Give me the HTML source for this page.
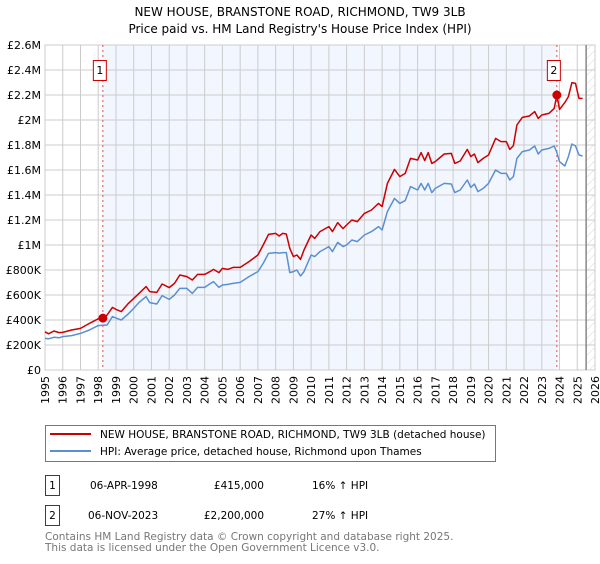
<!DOCTYPE html>
<html><head><meta charset="utf-8"><style>
body{margin:0;background:#fff;font-family:"DejaVu Sans","Liberation Sans",sans-serif;}
svg text{font-family:"DejaVu Sans","Liberation Sans",sans-serif;}
</style></head><body>
<svg id="chart" width="600" height="560" xmlns="http://www.w3.org/2000/svg">
<defs><pattern id="hatch" width="6" height="6" patternUnits="userSpaceOnUse" patternTransform="rotate(45)"><line x1="0" y1="0" x2="0" y2="6" stroke="#ccc" stroke-width="0.8"/></pattern></defs>
<text x="300" y="16" text-anchor="middle" font-size="12" fill="#000">NEW HOUSE, BRANSTONE ROAD, RICHMOND, TW9 3LB</text>
<text x="300" y="33" text-anchor="middle" font-size="12" fill="#000">Price paid vs. HM Land Registry's House Price Index (HPI)</text>
<g id="plot"></g>
<g>
<rect x="45.5" y="425.5" width="450" height="36" fill="#fff" stroke="#777"/>
<line x1="50" y1="434" x2="91" y2="434" stroke="#cc0000" stroke-width="2"/>
<text x="100" y="438" font-size="10.5">NEW HOUSE, BRANSTONE ROAD, RICHMOND, TW9 3LB (detached house)</text>
<line x1="50" y1="451" x2="91" y2="451" stroke="#5b8fd4" stroke-width="2"/>
<text x="100" y="455" font-size="10.5">HPI: Average price, detached house, Richmond upon Thames</text>
</g>
<g>
<rect x="45.5" y="475.5" width="14" height="20" fill="#fff" stroke="#cc0000"/>
<text x="52.5" y="489" font-size="10.5" text-anchor="middle">1</text>
<text x="90" y="489" font-size="10.5">06-APR-1998</text>
<text x="264" y="489" font-size="10.5" text-anchor="end">£415,000</text>
<text x="312" y="489" font-size="10.5">16% ↑ HPI</text>
<rect x="45.5" y="505.5" width="14" height="20" fill="#fff" stroke="#cc0000"/>
<text x="52.5" y="519" font-size="10.5" text-anchor="middle">2</text>
<text x="88" y="519" font-size="10.5">06-NOV-2023</text>
<text x="264" y="519" font-size="10.5" text-anchor="end">£2,200,000</text>
<text x="312" y="519" font-size="10.5">27% ↑ HPI</text>
</g>
<text x="45" y="540" font-size="10.5" fill="#777">Contains HM Land Registry data © Crown copyright and database right 2025.</text>
<text x="45" y="551" font-size="10.5" fill="#777">This data is licensed under the Open Government Licence v3.0.</text>
</svg>
<script>
const years=[1995.0,1995.2,1995.5,1995.8,1996.0,1996.5,1997.0,1997.5,1998.0,1998.25,1998.5,1998.8,1999.0,1999.3,1999.7,2000.0,2000.3,2000.7,2000.9,2001.3,2001.6,2002.0,2002.3,2002.6,2003.0,2003.3,2003.6,2004.0,2004.3,2004.5,2004.8,2005.0,2005.3,2005.6,2006.0,2006.5,2007.0,2007.3,2007.6,2008.0,2008.2,2008.4,2008.6,2008.8,2009.0,2009.2,2009.4,2009.6,2010.0,2010.2,2010.5,2011.0,2011.2,2011.5,2011.8,2012.0,2012.3,2012.6,2013.0,2013.4,2013.8,2014.0,2014.3,2014.7,2015.0,2015.3,2015.6,2016.0,2016.2,2016.4,2016.6,2016.8,2017.0,2017.5,2017.9,2018.1,2018.4,2018.8,2019.0,2019.2,2019.4,2019.7,2020.0,2020.4,2020.7,2021.0,2021.2,2021.4,2021.6,2021.9,2022.3,2022.6,2022.8,2023.0,2023.4,2023.7,2023.85,2024.0,2024.3,2024.5,2024.7,2024.9,2025.1,2025.3];
const priceK=[306,290,312,299,301,320,333,373,410,415,440,501,485,467,533,573,613,667,627,621,688,659,693,760,747,720,765,765,787,805,779,813,805,821,821,867,920,1000,1085,1093,1072,1093,1088,973,907,920,885,960,1080,1053,1107,1147,1107,1179,1131,1160,1200,1187,1253,1280,1333,1307,1493,1605,1547,1573,1693,1680,1739,1675,1739,1653,1667,1728,1733,1653,1672,1765,1707,1728,1659,1693,1720,1853,1827,1827,1765,1795,1960,2021,2032,2067,2013,2040,2053,2093,2200,2085,2139,2187,2299,2293,2173,2173];
const hpiK=[253,250,262,258,267,275,293,320,355,358,360,427,415,400,450,493,540,587,539,528,595,565,600,653,653,613,661,661,690,707,661,680,685,693,701,747,787,853,933,939,935,939,939,779,787,800,752,787,920,907,947,987,947,1021,987,1000,1040,1027,1080,1107,1147,1120,1267,1373,1333,1355,1467,1440,1493,1440,1493,1419,1453,1493,1488,1419,1440,1520,1461,1488,1427,1453,1493,1600,1573,1573,1520,1547,1693,1747,1760,1792,1728,1760,1773,1792,1739,1667,1632,1707,1808,1792,1720,1712];
const yTicksK=[0,200,400,600,800,1000,1200,1400,1600,1800,2000,2200,2400,2600];
const yTickLabels=["£0","£200K","£400K","£600K","£800K","£1M","£1.2M","£1.4M","£1.6M","£1.8M","£2M","£2.2M","£2.4M","£2.6M"];
const xTicks=[1995,1996,1997,1998,1999,2000,2001,2002,2003,2004,2005,2006,2007,2008,2009,2010,2011,2012,2013,2014,2015,2016,2017,2018,2019,2020,2021,2022,2023,2024,2025,2026];
const saleYears=[1998.26,2023.85];
const salePricesK=[415,2200];
const saleLabels=["1","2"];
const dataEnd=2025.5;

const L=45,R=595,T=45,B=370,X0=1995,X1=2026,YMAX=2600;
const sx=v=>L+(v-X0)/(X1-X0)*(R-L);
const sy=v=>B-v/YMAX*(B-T);
const NS="http://www.w3.org/2000/svg";
const g=document.getElementById('plot');
function el(t,a){const e=document.createElementNS(NS,t);for(const k in a)e.setAttribute(k,a[k]);g.appendChild(e);return e;}

let e=el('rect',{x:sx(saleYears[0]),y:T,width:sx(saleYears[1])-sx(saleYears[0]),height:B-T,fill:'#eef3fd',opacity:0.75});


e=el('rect',{x:sx(dataEnd),y:T,width:R-sx(dataEnd),height:B-T,fill:'url(#hatch)'});



yTicksK.forEach((v,i)=>{
  let l=el('line',{x1:L,x2:R,y1:sy(v),y2:sy(v),stroke:'#ccc','stroke-width':1});
  
  
  let t=el('text',{x:L-4,y:sy(v)+4,'text-anchor':'end','font-size':11});
  t.textContent=yTickLabels[i];
  
  
});
xTicks.forEach(v=>{
  let l=el('line',{x1:sx(v),x2:sx(v),y1:T,y2:B,stroke:'#ccc','stroke-width':1});
  
  
  let t=el('text',{x:0,y:0,'text-anchor':'end','font-size':11,transform:`translate(${sx(v)+4},${B+6}) rotate(-90)`});
  t.textContent=v;
  
  
});
e=el('rect',{x:L,y:T,width:R-L,height:B-T,fill:'none',stroke:'#ccc'});


e=el('line',{x1:sx(dataEnd),x2:sx(dataEnd),y1:T,y2:B,stroke:'#888','stroke-width':1.5});


saleYears.forEach((y,i)=>{
  let l=el('line',{x1:sx(y),x2:sx(y),y1:T,y2:B,stroke:'#e05050','stroke-width':1,'stroke-dasharray':'2,3'});
  
  
});
function path(vals,color,name){
  const d=vals.map((v,i)=>(i?'L':'M')+sx(years[i]).toFixed(1)+','+sy(v).toFixed(1)).join('');
  const p=el('path',{d:d,fill:'none',stroke:color,'stroke-width':1.5,'stroke-linejoin':'round'});
  
  
}
path(hpiK,'#5b8fd4','hpi-line');
path(priceK,'#cc0000','price-line');
saleYears.forEach((y,i)=>{
  let c=el('circle',{cx:sx(y),cy:sy(salePricesK[i]),r:4.5,fill:'#cc0000'});
  
  
  let bx=sx(y)-10;
  let r=el('rect',{x:bx+0.5,y:60.5,width:13,height:20,fill:'#fff',stroke:'#cc0000'});
  
  
  let t=el('text',{x:bx+7,y:74,'text-anchor':'middle','font-size':11});
  t.textContent=saleLabels[i];
  
  
});
</script>
</body></html>
